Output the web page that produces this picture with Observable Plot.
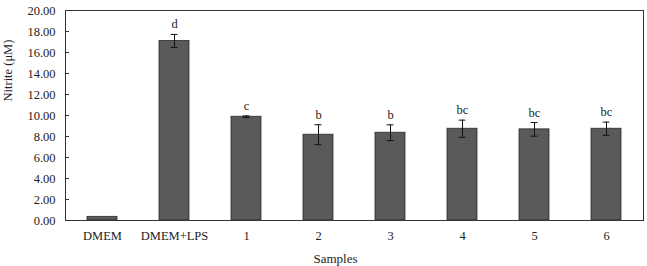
<!DOCTYPE html>
<html>
<head>
<meta charset="utf-8">
<script src="https://cdn.jsdelivr.net/npm/d3@7"></script>
<script src="https://cdn.jsdelivr.net/npm/@observablehq/plot@0.6"></script>
<style>
  html, body { margin: 0; padding: 0; background: #fff; }
  #chart svg { display: block; }
</style>
</head>
<body>
<div id="chart"></div>
<script>
// Nitrite production per sample (mean ± SD) with significance letters
const samples = ["DMEM", "DMEM+LPS", "1", "2", "3", "4", "5", "6"];
const nitrite = [0.35, 17.1, 9.88, 8.17, 8.36, 8.74, 8.68, 8.74];
const errors  = [0.0, 0.62, 0.08, 0.95, 0.75, 0.82, 0.65, 0.63];
const letters = ["", "d", "c", "b", "b", "bc", "bc", "bc"];
const yTicks  = [0, 2, 4, 6, 8, 10, 12, 14, 16, 18, 20];

const rows = samples.map((s, i) => ({
  sample: s,
  value: nitrite[i],
  lo: nitrite[i] - errors[i],
  hi: nitrite[i] + errors[i],
  letter: letters[i]
}));
const withErr = rows.filter(d => d.hi > d.value);

const font = "'Liberation Serif', 'Times New Roman', serif";

const chart = Plot.plot({
  width: 647,
  height: 266,
  marginLeft: 65,
  marginRight: 4,
  marginTop: 10,
  marginBottom: 46,
  style: { fontFamily: font, fontSize: "12.5px", color: "#222", background: "#fff" },
  x: { domain: samples, padding: 0, label: null },
  y: { domain: [0, 20], label: null },
  marks: [
    Plot.barY(rows, {
      x: "sample", y: "value",
      fill: "#5a5a5a", stroke: "#2a2a2a", strokeWidth: 0.8,
      insetLeft: 21, insetRight: 21
    }),
    // error bars
    Plot.ruleX(withErr, { x: "sample", y1: "lo", y2: "hi", stroke: "#111", strokeWidth: 1 }),
    Plot.tickY(withErr, { x: "sample", y: "hi", stroke: "#111", strokeWidth: 1, insetLeft: 32.6, insetRight: 32.6 }),
    Plot.tickY(withErr, { x: "sample", y: "lo", stroke: "#111", strokeWidth: 1, insetLeft: 32.6, insetRight: 32.6 }),
    // significance letters
    Plot.text(rows, {
      x: "sample", y: "hi", text: "letter",
      dy: -6, lineAnchor: "bottom",
      fontFamily: font, fontSize: 12.5, fill: "#222"
    }),
    // y axis: inward ticks and right-aligned labels
    Plot.axisY(yTicks, { tickSize: 4, dx: 4, tickFormat: () => "", stroke: "#333" }),
    Plot.axisY(yTicks, {
      tickSize: 0, tickPadding: 10,
      tickFormat: d => d.toFixed(2),
      label: null, fontSize: 12.5
    }),
    Plot.text(["Nitrite (μM)"], {
      frameAnchor: "left", rotate: -90, dx: -58, dy: -14,
      fontFamily: font, fontSize: 12.5, fill: "#222"
    }),
    Plot.axisX({ tickSize: 0, tickPadding: 11, label: null, fontSize: 12.5 }),
    Plot.text(["Samples"], {
      frameAnchor: "bottom", dx: -19, dy: 42, lineAnchor: "bottom",
      fontFamily: font, fontSize: 13, fill: "#222"
    }),
    Plot.frame({ stroke: "#333", strokeWidth: 1 })
  ]
});

document.getElementById("chart").append(chart);
</script>
</body>
</html>
